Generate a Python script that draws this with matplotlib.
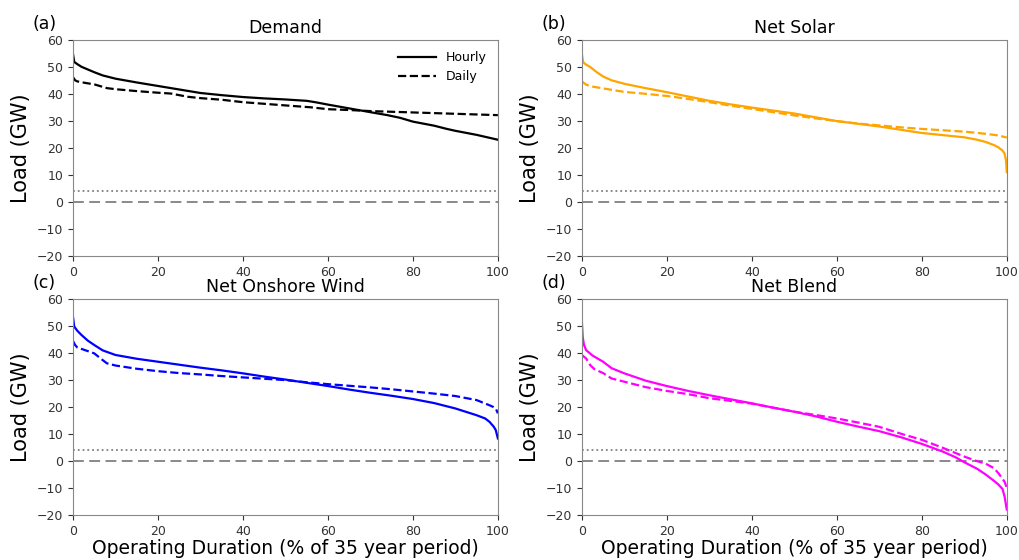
import matplotlib
matplotlib.use("Agg")
import matplotlib.pyplot as plt
import numpy as np

# Duration (% of 35 year period) and load (GW)
demand_x_h = [0, 0.3, 1, 2, 3.5, 5, 7, 10, 15, 20, 25, 30, 35, 40, 45, 50, 55, 57, 60, 65, 70, 74, 77, 80, 85, 88, 90, 95, 100]
demand_h = [54.8, 51.8, 51.0, 50.0, 49.0, 48.0, 46.8, 45.6, 44.2, 42.9, 41.6, 40.3, 39.5, 38.8, 38.3, 37.9, 37.4, 36.9, 36.0, 34.6, 33.2, 32.1, 31.1, 29.7, 28.2, 27.0, 26.3, 24.8, 23.0]
demand_x_d = [0, 0.5, 1, 3, 5, 8, 10, 15, 20, 23, 27, 30, 35, 40, 45, 50, 56, 60, 65, 70, 80, 90, 100]
demand_d = [46.2, 45.0, 44.6, 44.0, 43.5, 42.1, 41.7, 41.0, 40.4, 40.1, 38.9, 38.4, 37.8, 36.9, 36.3, 35.7, 35.0, 34.3, 34.0, 33.6, 33.1, 32.6, 32.1]

solar_x_h = [0, 0.3, 1, 2, 3.5, 5, 7, 10, 15, 20, 25, 30, 35, 40, 45, 50, 55, 60, 65, 70, 75, 80, 85, 90, 93, 95, 97, 98, 99, 99.5, 99.8, 100]
solar_h = [54.8, 51.7, 50.8, 49.9, 48.0, 46.4, 45.0, 43.7, 42.1, 40.6, 39.0, 37.4, 36.1, 34.9, 33.8, 32.7, 31.3, 29.9, 28.9, 27.9, 26.7, 25.5, 24.7, 23.9, 23.0, 22.2, 21.0, 20.2, 19.0, 17.8, 15.5, 11.0]
solar_x_d = [0, 1, 2, 5, 10, 15, 20, 25, 30, 35, 40, 45, 50, 55, 60, 65, 70, 75, 80, 85, 90, 95, 98, 100]
solar_d = [44.6, 43.4, 42.8, 42.0, 40.7, 40.0, 39.2, 38.1, 36.9, 35.6, 34.4, 33.2, 32.0, 30.9, 29.9, 29.0, 28.3, 27.6, 27.0, 26.5, 26.0, 25.2, 24.6, 23.8]

wind_x_h = [0, 0.3, 1, 2, 3.5, 5, 7, 10, 15, 20, 25, 30, 35, 40, 45, 50, 55, 60, 65, 70, 75, 80, 85, 90, 93, 95, 97, 98, 99, 99.5, 100]
wind_h = [53.5, 49.8, 48.3, 46.7, 44.6, 43.0, 41.0, 39.3, 37.9, 36.8, 35.7, 34.6, 33.6, 32.5, 31.3, 30.2, 29.0, 27.8, 26.5, 25.3, 24.2, 23.0, 21.5, 19.5, 18.0, 17.0, 15.8, 14.6, 12.8, 11.5, 8.4]
wind_x_d = [0, 0.5, 1, 3, 5, 7, 8, 10, 15, 20, 25, 30, 35, 40, 45, 50, 55, 60, 65, 70, 75, 80, 85, 90, 95, 98, 99, 99.5, 100]
wind_d = [44.5, 43.0, 42.1, 41.0, 39.9, 37.4, 36.2, 35.4, 34.2, 33.3, 32.6, 32.1, 31.5, 31.0, 30.5, 30.0, 29.2, 28.5, 27.9, 27.3, 26.6, 25.8, 25.0, 24.1, 22.6, 20.7, 20.0, 19.5, 17.7]

blend_x_h = [0, 0.2, 0.5, 1, 2.5, 5, 7, 10, 15, 20, 25, 30, 35, 40, 45, 50, 55, 60, 65, 70, 75, 80, 85, 88, 90, 93, 95, 97, 98, 99, 99.5, 100]
blend_h = [52.0, 46.0, 43.0, 41.1, 39.1, 36.8, 34.4, 32.5, 29.8, 27.8, 26.0, 24.4, 22.9, 21.4, 19.8, 18.3, 16.6, 14.6, 12.8, 11.1, 8.9, 6.4, 3.5, 1.4, -0.4, -2.8, -4.9, -7.3, -8.6, -10.3, -13.2, -17.9]
blend_x_d = [0, 1, 2, 3, 5, 7, 10, 15, 20, 25, 30, 35, 40, 45, 50, 55, 60, 65, 70, 75, 80, 85, 90, 93, 95, 97, 98, 99, 99.5, 100]
blend_d = [39.3, 38.0, 35.5, 34.0, 32.6, 30.6, 29.4, 27.4, 26.0, 24.8, 23.3, 22.3, 21.3, 19.8, 18.3, 17.1, 15.8, 14.3, 12.7, 10.2, 7.9, 4.9, 1.7, 0.0, -0.9, -2.6, -4.4, -6.5, -7.7, -9.8]

titles = ["Demand", "Net Solar", "Net Onshore Wind", "Net Blend"]
labels = ["(a)", "(b)", "(c)", "(d)"]
colors = ["black", "#FFA500", "blue", "magenta"]
threshold = 4.2

series = [
    (demand_x_h, demand_h, demand_x_d, demand_d),
    (solar_x_h, solar_h, solar_x_d, solar_d),
    (wind_x_h, wind_h, wind_x_d, wind_d),
    (blend_x_h, blend_h, blend_x_d, blend_d),
]

fig = plt.figure(figsize=(10.19, 5.6), dpi=100)
lefts = [0.0716, 0.571, 0.0716, 0.571]
bottoms = [0.543, 0.543, 0.080, 0.080]
w = 0.417
h = 0.386

for i in range(4):
    ax = fig.add_axes([lefts[i], bottoms[i], w, h])
    xh, yh, xd, yd = series[i]
    ax.axhline(threshold, color="gray", ls=":", lw=1.3)
    ax.axhline(0, color="gray", ls=(0, (6, 3)), lw=1.3)
    ax.plot(xh, yh, color=colors[i], lw=1.6, ls="-", label="Hourly")
    ax.plot(xd, yd, color=colors[i], lw=1.6, ls="--", label="Daily")
    ax.set_xlim(0, 100)
    ax.set_ylim(-20, 60)
    ax.set_xticks([0, 20, 40, 60, 80, 100])
    ax.set_yticks(range(-20, 61, 10))
    ax.tick_params(labelsize=9, colors="#333333", length=3.5)
    for sp in ax.spines.values():
        sp.set_color("#888888")
    ax.set_ylabel("Load (GW)", fontsize=15)
    ax.set_title(titles[i], fontsize=12.5, pad=5)
    if i >= 2:
        ax.set_xlabel("Operating Duration (% of 35 year period)", fontsize=13.5, labelpad=1)
    if i == 0:
        ax.legend(loc="upper right", frameon=False, fontsize=9, handlelength=3)
    fig.text(lefts[i] - 0.04, bottoms[i] + h + 0.02, labels[i], fontsize=12.5)

fig.savefig("out.png", dpi=100)
